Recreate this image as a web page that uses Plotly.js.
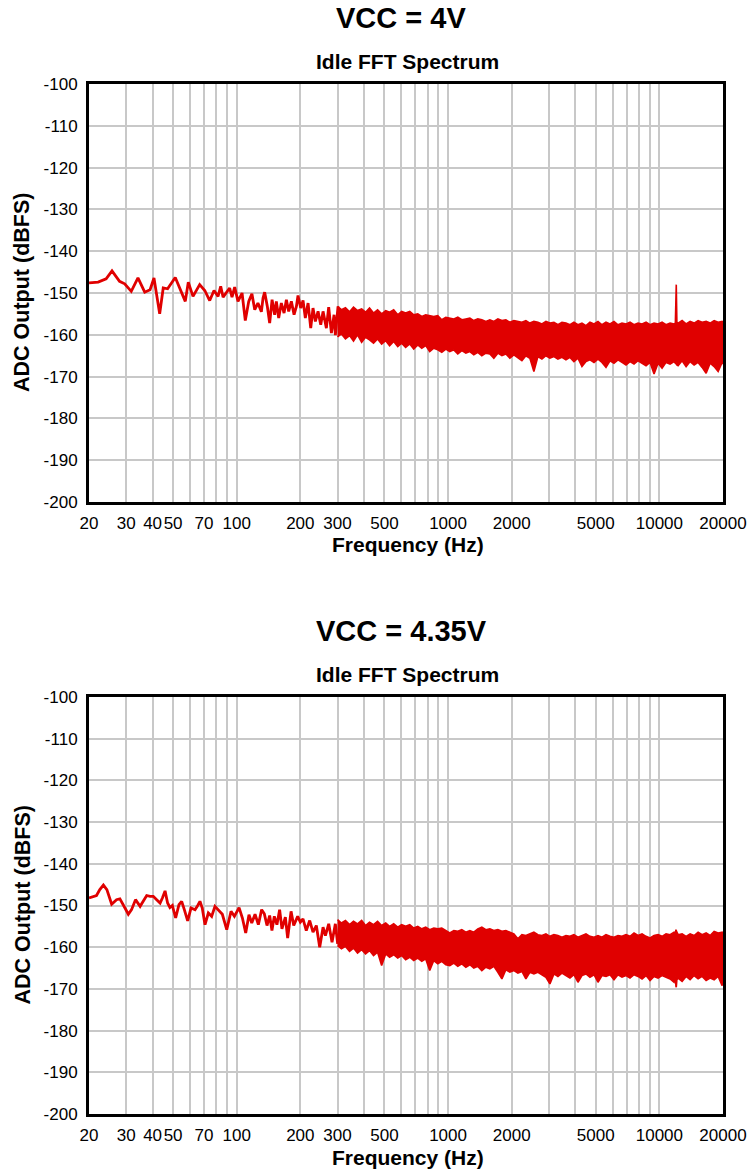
<!DOCTYPE html>
<html>
<head>
<meta charset="utf-8">
<script src="https://cdn.plot.ly/plotly-3.0.1.min.js"></script>
<style>
  html, body { margin: 0; padding: 0; background: #ffffff; }
  #chart { width: 751px; height: 1169px; }
</style>
</head>
<body>
<div id="chart"></div>
<script>
// ---------- data ----------
const chartTitles = ["VCC = 4V", "VCC = 4.35V"];
const subTitle = "Idle FFT Spectrum";
const xTitle = "Frequency (Hz)";
const yTitle = "ADC Output (dBFS)";

const gridFreqs = [20, 30, 40, 50, 60, 70, 80, 90, 100, 200, 300, 400, 500, 600, 700, 800, 900,
  1000, 2000, 3000, 4000, 5000, 6000, 7000, 8000, 9000, 10000, 20000];
const labeledFreqs = [20, 30, 40, 50, 70, 100, 200, 300, 500, 1000, 2000, 5000, 10000, 20000];
const yTicks = [-100, -110, -120, -130, -140, -150, -160, -170, -180, -190, -200];

// VCC = 4V : low-frequency trace (Hz, dBFS)
const freqLow4V = [20, 22.1, 24.1, 25.7, 27.9, 29.5, 31.7, 34.1, 36.7, 38.9,
  40.6, 43.2, 44.9, 47.1, 51.2, 54.6, 57.1, 59.0, 62.1, 66.8,
  70.6, 74.5, 78.1, 81.6, 84.0, 86.2, 89.3, 92.6, 95.0, 97.8,
  101.4, 106.0, 109.8, 114.0, 118.0, 121.7, 126.0, 130.8, 133.2, 135.6,
  139.6, 143.2, 147.0, 151.2, 154.0, 158.0, 162.6, 167.5, 171.8, 176.2,
  181.4, 186.8, 191.6, 195.0, 200.8, 206.0, 211.2, 217.6, 224.0, 229.6,
  235.6, 242.6, 249.8, 256.2, 265.6, 272.4, 280.6, 288.8, 293.0, 301.6];
const dbLow4V = [-147.6, -147.4, -146.6, -144.7, -147.2, -147.8, -149.6, -146.4, -149.8, -149.2,
  -146.4, -155.0, -148.8, -149.0, -146.3, -149.6, -152.0, -147.4, -150.8, -148.0,
  -149.4, -151.8, -149.4, -150.8, -148.4, -151.0, -149.8, -148.8, -151.0, -148.6,
  -152.0, -150.0, -156.6, -152.0, -150.2, -154.0, -152.4, -154.5, -151.2, -149.8,
  -153.2, -157.2, -151.6, -155.2, -152.0, -156.0, -152.4, -154.8, -151.6, -154.4,
  -152.0, -155.2, -153.2, -150.6, -153.6, -151.8, -156.0, -152.4, -158.4, -153.6,
  -156.8, -154.4, -157.6, -154.4, -158.4, -153.4, -159.6, -155.2, -160.1, -153.2];

// VCC = 4.35V : low-frequency trace
const freqLow435V = [20, 21.7, 22.5, 23.4, 24.3, 25.6, 27.0, 28.0, 29.6, 30.7,
  31.8, 33.2, 34.9, 37.5, 38.9, 40.3, 41.8, 43.4, 44.5, 45.8,
  47.1, 48.3, 49.6, 51.4, 53.3, 54.9, 56.5, 58.6, 60.8, 63.5,
  65.4, 67.0, 68.7, 70.8, 73.4, 76.1, 78.9, 81.8, 85.5, 89.7,
  94.0, 97.5, 102.6, 106.4, 110.3, 114.3, 117.8, 122.1, 126.6, 131.2,
  135.1, 139.1, 143.2, 146.8, 150.6, 155.0, 159.6, 163.7, 169.9, 174.2,
  180.8, 186.1, 194.3, 200, 205.9, 213.4, 221.5, 229.6, 238.1, 247,
  256.2, 262.8, 272.5, 282.5, 292.9, 300.4];
const dbLow435V = [-148.2, -147.6, -146.2, -145.1, -146.2, -149.7, -148.6, -148.4, -150.6, -152.1,
  -151.0, -148.6, -150.2, -147.6, -147.8, -147.8, -148.6, -149.4, -148.2, -146.5,
  -149.4, -150.5, -150.0, -153.0, -149.8, -149.0, -151.0, -153.7, -150.6, -151.0,
  -150.0, -149.0, -150.6, -154.6, -151.8, -152.6, -150.2, -151.0, -152.1, -155.8,
  -151.4, -152.6, -150.5, -153.0, -156.6, -152.2, -154.2, -152.1, -154.6, -151.0,
  -152.0, -154.8, -152.4, -156.0, -152.6, -154.6, -151.0, -155.6, -152.8, -157.8,
  -151.4, -154.8, -152.6, -154.0, -153.2, -156.0, -153.6, -156.4, -154.8, -160.0,
  -155.2, -157.2, -154.4, -158.8, -154.4, -159.2];

// dense noise region: upper / lower envelope at each frequency
const freqBand = [300, 313, 327, 342, 357, 373, 390, 407, 425, 444,
  464, 485, 507, 529, 553, 578, 603, 630, 659, 688,
  719, 751, 784, 819, 856, 894, 934, 976, 1019, 1065,
  1112, 1162, 1214, 1268, 1324, 1383, 1445, 1510, 1577, 1647,
  1721, 1798, 1878, 1961, 2049, 2140, 2236, 2335, 2439, 2548,
  2662, 2781, 2905, 3034, 3170, 3311, 3459, 3613, 3774, 3942,
  4118, 4302, 4494, 4694, 4904, 5122, 5351, 5589, 5839, 6099,
  6371, 6655, 6952, 7262, 7586, 7925, 8278, 8647, 9033, 9436,
  9857, 10296, 10756, 11236, 11737, 11900, 11980, 12020, 12100, 12261,
  12808, 13379, 13976, 14599, 15250, 15930, 16640, 17382, 18158, 18967,
  19813, 20000];

const bandHigh4V = [-153.2, -154.0, -153.5, -154.5, -153.4, -154.2, -153.8, -154.6, -153.6, -154.8,
  -154.0, -155.0, -154.2, -154.6, -154.0, -155.2, -154.4, -154.8, -154.4, -155.2,
  -155.0, -155.6, -155.2, -155.4, -155.6, -155.4, -156.4, -155.8, -156.0, -156.2,
  -155.8, -156.4, -156.2, -156.0, -156.6, -156.2, -156.4, -156.8, -156.4, -156.8,
  -156.2, -156.6, -156.4, -157.0, -156.6, -156.8, -157.0, -156.6, -157.2, -156.8,
  -157.0, -157.4, -156.8, -157.2, -157.0, -157.6, -157.0, -157.2, -157.6, -157.0,
  -157.6, -157.2, -157.8, -157.0, -157.4, -156.8, -157.6, -157.0, -157.4, -156.8,
  -157.6, -157.2, -157.4, -157.0, -157.6, -157.2, -157.4, -157.0, -157.6, -157.2,
  -157.4, -157.0, -157.6, -157.2, -157.4, -157.2, -148.5, -148.0, -157.0, -157.2,
  -156.6, -157.4, -156.8, -157.2, -156.6, -157.0, -156.8, -157.2, -156.6, -157.0,
  -156.8, -157.0];
const bandLow4V = [-160.5, -159.8, -161.0, -160.2, -161.5, -160.0, -161.8, -160.6, -161.2, -162.0,
  -161.0, -162.2, -161.4, -162.6, -161.6, -162.8, -162.0, -163.0, -162.2, -163.4,
  -162.4, -163.2, -162.6, -164.0, -163.2, -163.6, -164.2, -163.4, -164.0, -163.6,
  -164.6, -163.8, -164.4, -164.0, -164.8, -164.2, -165.0, -164.4, -164.6, -165.6,
  -164.4, -165.0, -164.6, -165.6, -164.8, -165.4, -166.2, -165.0, -165.6, -168.8,
  -165.2, -165.8, -165.0, -165.6, -165.2, -165.8, -165.4, -166.0, -165.4, -166.4,
  -165.6, -167.6, -166.4, -166.0, -166.6, -165.8, -166.6, -167.8, -166.2, -166.8,
  -166.0, -166.6, -167.2, -166.4, -167.0, -166.2, -166.8, -167.4, -166.6, -169.4,
  -166.8, -168.0, -166.6, -167.0, -166.4, -166.8, -167.0, -166.6, -167.2, -167.4,
  -166.2, -167.6, -166.4, -167.2, -166.6, -167.8, -169.2, -166.8, -167.6, -168.8,
  -166.6, -167.0];

const bandHigh435V = [-153.4, -154.2, -153.6, -154.6, -153.8, -154.4, -153.6, -154.8, -154.0, -154.6,
  -153.8, -154.8, -154.2, -155.0, -154.4, -155.2, -154.6, -155.0, -154.6, -155.4,
  -155.0, -155.6, -155.2, -155.8, -155.4, -155.6, -155.4, -156.0, -156.6, -156.0,
  -156.2, -155.8, -156.4, -156.0, -156.4, -155.6, -155.2, -155.8, -155.6, -156.0,
  -155.8, -156.2, -156.0, -156.4, -156.8, -158.0, -157.0, -157.2, -156.8, -156.4,
  -157.0, -157.2, -156.8, -157.4, -157.0, -157.2, -157.6, -157.2, -157.4, -157.0,
  -157.6, -157.2, -156.8, -157.4, -157.6, -157.2, -157.6, -157.0, -157.4, -157.6,
  -157.2, -157.4, -157.0, -157.4, -156.6, -157.2, -156.8, -157.4, -157.8, -157.2,
  -157.0, -157.4, -156.8, -157.0, -156.4, -156.6, -155.8, -156.0, -156.4, -157.0,
  -156.8, -157.4, -156.8, -157.2, -156.4, -157.0, -156.6, -157.2, -156.2, -156.6,
  -156.4, -157.0];
const bandLow435V = [-159.6, -160.4, -159.8, -161.0, -160.2, -161.4, -160.6, -161.6, -160.8, -162.0,
  -161.2, -164.4, -161.6, -162.4, -161.8, -162.6, -162.0, -163.0, -162.4, -163.2,
  -162.6, -163.4, -162.8, -165.6, -163.2, -164.0, -163.4, -164.2, -164.4, -163.8,
  -164.6, -164.0, -164.8, -164.2, -165.0, -164.6, -165.6, -164.8, -165.2, -164.6,
  -166.0, -167.6, -165.4, -166.0, -165.6, -166.2, -165.8, -167.6, -166.0, -166.4,
  -166.0, -166.6, -167.2, -168.8, -166.4, -167.0, -166.2, -166.8, -167.4, -166.6,
  -168.4, -166.8, -166.4, -167.2, -166.6, -168.4, -166.8, -167.0, -166.6, -167.8,
  -166.6, -167.2, -166.8, -167.4, -166.6, -167.0, -167.6, -166.8, -168.0, -167.0,
  -167.4, -166.8, -167.2, -167.6, -168.4, -167.0, -169.4, -169.6, -167.8, -167.4,
  -168.2, -167.0, -167.8, -166.8, -167.6, -167.0, -168.0, -167.4, -167.8, -167.0,
  -169.2, -168.0];

// ---------- drawing ----------
const RED = '#e00000';
const FONT = 'Liberation Sans, Arial, Helvetica, sans-serif';

function lineTrace(x, y, xa, ya) {
  return { x: x, y: y, xaxis: xa, yaxis: ya, type: 'scatter', mode: 'lines',
    line: { color: RED, width: 2.8 }, hoverinfo: 'skip', showlegend: false };
}
function bandTraces(x, hi, lo, xa, ya) {
  return [
    { x: x, y: hi, xaxis: xa, yaxis: ya, type: 'scatter', mode: 'lines',
      line: { color: RED, width: 1.6 }, hoverinfo: 'skip', showlegend: false },
    { x: x, y: lo, xaxis: xa, yaxis: ya, type: 'scatter', mode: 'lines',
      line: { color: RED, width: 1.6 }, fill: 'tonexty', fillcolor: RED,
      hoverinfo: 'skip', showlegend: false }
  ];
}

const data = [].concat(
  [lineTrace(freqLow4V, dbLow4V, 'x', 'y')],
  bandTraces(freqBand, bandHigh4V, bandLow4V, 'x', 'y'),
  [lineTrace(freqLow435V, dbLow435V, 'x2', 'y2')],
  bandTraces(freqBand, bandHigh435V, bandLow435V, 'x2', 'y2')
);

const W = 751, H = 1169;
const plotLeft = 89, plotRight = 723;
const plots = [ { top: 84, bottom: 502 }, { top: 697, bottom: 1114 } ];
const xDom = [plotLeft / W, plotRight / W];

const tickText = gridFreqs.map(f => labeledFreqs.indexOf(f) >= 0 ? String(f) : '');

function xAxis(anchor) {
  return {
    type: 'log', range: [Math.log10(20), Math.log10(20000)], domain: xDom, anchor: anchor,
    tickmode: 'array', tickvals: gridFreqs, ticktext: tickText, tickangle: 0,
    ticks: 'outside', ticklen: 4, tickcolor: 'rgba(0,0,0,0)',
    tickfont: { family: FONT, size: 17, color: '#000' },
    showgrid: true, gridcolor: '#c8c8c8', gridwidth: 2,
    showline: true, linecolor: '#000', linewidth: 3, mirror: true,
    zeroline: false, fixedrange: true
  };
}
function yAxis(anchor, p) {
  return {
    range: [-200, -100], domain: [1 - p.bottom / H, 1 - p.top / H], anchor: anchor,
    tickmode: 'array', tickvals: yTicks, ticktext: yTicks.map(String),
    ticks: 'outside', ticklen: 5, tickcolor: 'rgba(0,0,0,0)',
    tickfont: { family: FONT, size: 17, color: '#000' },
    showgrid: true, gridcolor: '#c8c8c8', gridwidth: 2,
    showline: true, linecolor: '#000', linewidth: 3, mirror: true,
    zeroline: false, fixedrange: true
  };
}

const titleX = 401 / W;
const annotations = [];
plots.forEach((p, i) => {
  const off = p.top - 84;
  annotations.push({ text: '<b>' + chartTitles[i] + '</b>', xref: 'paper', yref: 'paper',
    x: titleX, y: 1 - (18 + off) / H, xanchor: 'center', yanchor: 'middle', showarrow: false,
    font: { family: FONT, size: 29, color: '#000' } });
  annotations.push({ text: '<b>' + subTitle + '</b>', xref: 'paper', yref: 'paper',
    x: 407 / W, y: 1 - (61 + off) / H, xanchor: 'center', yanchor: 'middle', showarrow: false,
    font: { family: FONT, size: 21, color: '#000' } });
  annotations.push({ text: '<b>' + xTitle + '</b>', xref: 'paper', yref: 'paper',
    x: 408 / W, y: 1 - (544 + off) / H, xanchor: 'center', yanchor: 'middle', showarrow: false,
    font: { family: FONT, size: 21, color: '#000' } });
  annotations.push({ text: '<b>' + yTitle + '</b>', xref: 'paper', yref: 'paper',
    x: 22 / W, y: 1 - ((p.top + p.bottom) / 2) / H, xanchor: 'center', yanchor: 'middle',
    textangle: -90, showarrow: false,
    font: { family: FONT, size: 21.5, color: '#000' } });
});

const layout = {
  width: W, height: H, autosize: false,
  margin: { l: 0, r: 0, t: 0, b: 0, pad: 0 },
  paper_bgcolor: '#ffffff', plot_bgcolor: '#ffffff',
  showlegend: false, hovermode: false,
  font: { family: FONT, color: '#000' },
  xaxis: xAxis('y'), yaxis: yAxis('x', plots[0]),
  xaxis2: xAxis('y2'), yaxis2: yAxis('x2', plots[1]),
  annotations: annotations
};

Plotly.newPlot('chart', data, layout, { staticPlot: true, displayModeBar: false });
</script>
</body>
</html>
